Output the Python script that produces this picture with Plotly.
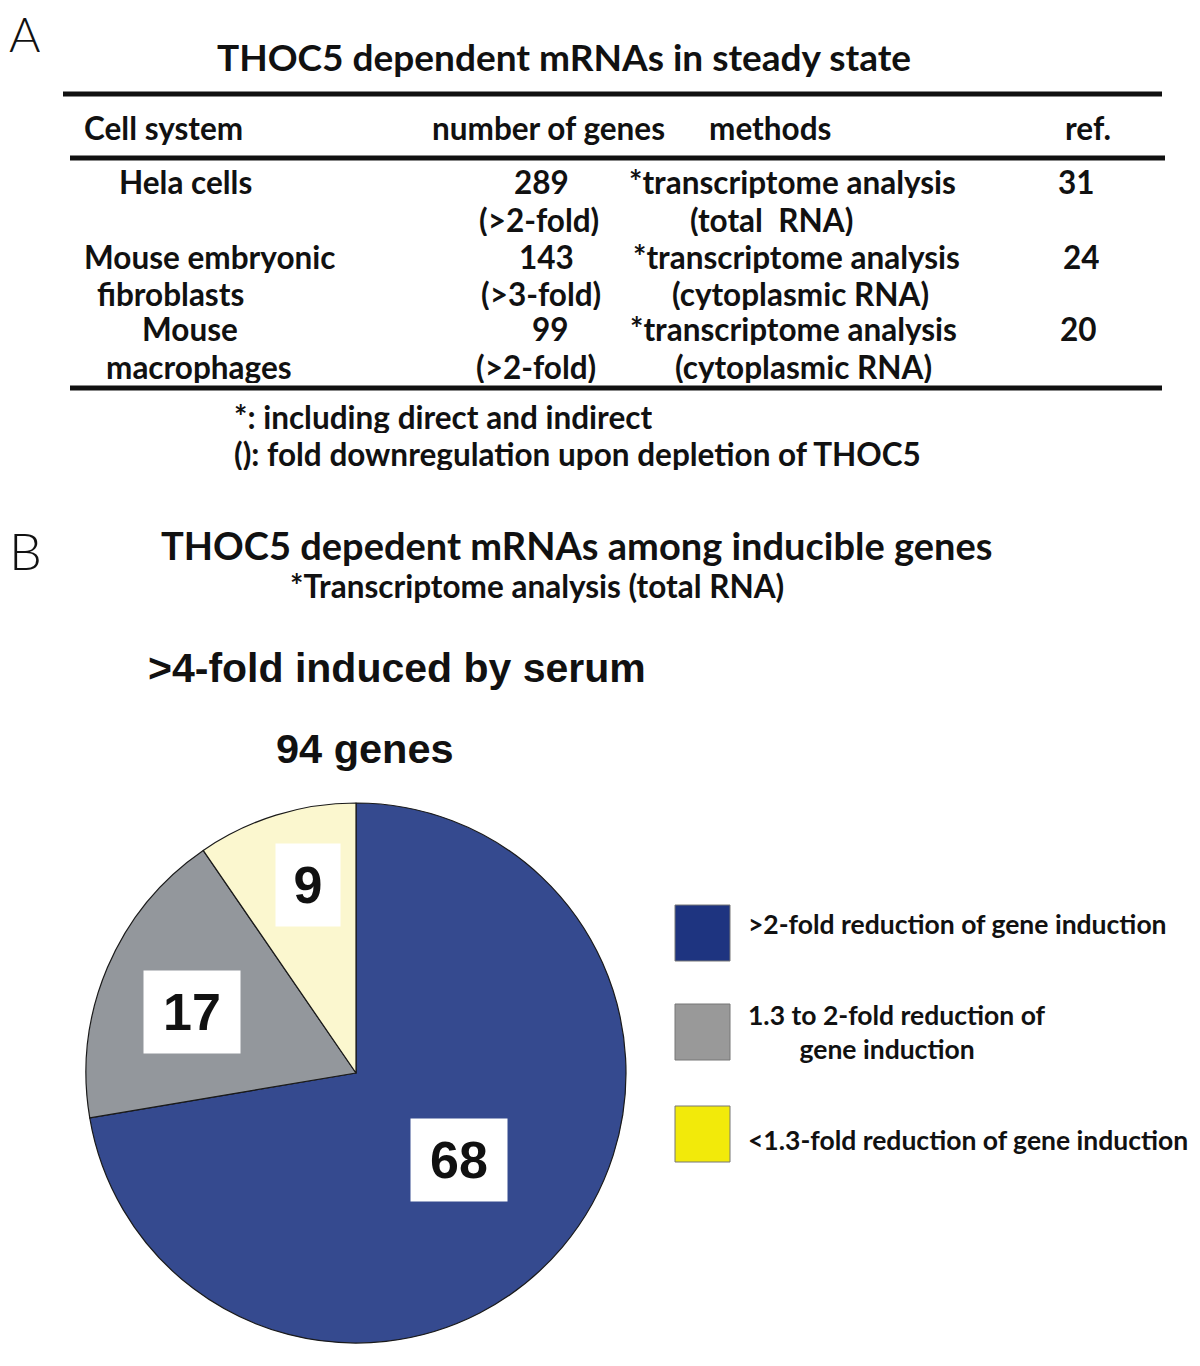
import math
import plotly.graph_objects as go

# ---------------- data ----------------
table_title = "THOC5 dependent mRNAs in steady state"
header = ["Cell system", "number of genes", "methods", "ref."]
cell_line1 = ["Hela cells", "Mouse embryonic", "Mouse"]
cell_line2 = ["", "fibroblasts", "macrophages"]
gene_counts = [289, 143, 99]
fold_thresholds = ["(>2-fold)", "(>3-fold)", "(>2-fold)"]
methods = ["*transcriptome analysis", "*transcriptome analysis", "*transcriptome analysis"]
rna_types = ["(total  RNA)", "(cytoplasmic RNA)", "(cytoplasmic RNA)"]
refs = [31, 24, 20]
footnotes = ["*: including direct and indirect", "(): fold downregulation upon depletion of THOC5"]

b_title = "THOC5 depedent mRNAs among inducible genes"
b_subtitle = "*Transcriptome analysis (total RNA)"
pie_heading = ">4-fold induced by serum"
pie_total_label = "94 genes"
categories = [">2-fold reduction of gene induction",
              "1.3 to 2-fold reduction of<br>        gene induction",
              "<1.3-fold reduction of gene induction"]
gene_numbers = [68, 17, 9]

# ---------------- style ----------------
W, H = 1200, 1366
pie_colors = ["#354a8f", "#93979c", "#fbf7cf"]
legend_colors = ["#1e3480", "#999999", "#f2ea0a"]
TFONT = "Lato"
TS = 31.5  # table text size


def px(x):
    return x / W


def py(y):
    return 1 - y / H


annotations = []
shapes = []


def text(x, y, s, size, family=TFONT, bold=True, anchor="center", weight=None, h=None):
    f = dict(family=family, size=size, color="#111111")
    if weight is not None:
        f["weight"] = weight
    elif bold:
        f["weight"] = "bold"
    a = dict(x=px(x), y=py(y), xref="paper", yref="paper", text=s,
             showarrow=False, xanchor=anchor, yanchor="middle", font=f)
    if h is not None:
        a["height"] = h
    annotations.append(a)


# panel labels
text(24, 33, "A", 48, weight=300, h=44)
text(25, 550, "B", 52, weight=300, h=44)

# ---- Panel A table ----
text(564, 57, table_title, 37)
for y0, x0, x1 in [(94, 63, 1162), (158, 70, 1165), (388, 70, 1162)]:
    shapes.append(dict(type="line", xref="paper", yref="paper", x0=px(x0), x1=px(x1),
                       y0=py(y0), y1=py(y0), line=dict(color="#111111", width=5)))

text(82, 128, header[0], TS, anchor="left")
text(548, 128, header[1], TS)
text(770, 128, header[2], TS)
text(1088, 128, header[3], TS)

row_y1 = [182, 256, 329]
row_y2 = [219, 293, 366]
cell_x1 = [185, 209, 190]
cell_x2 = [185, 170, 199]
num_x = [541, 546, 550]
fold_x = [539, 541, 536]
meth_x = [792, 796, 793]
rna_x = [771, 800, 803]
ref_x = [1076, 1081, 1078]
RH = 33
for i in range(3):
    text(cell_x1[i], row_y1[i], cell_line1[i], TS, h=RH)
    if cell_line2[i]:
        text(cell_x2[i], row_y2[i], cell_line2[i], TS, h=RH)
    text(num_x[i], row_y1[i], str(gene_counts[i]), TS, h=RH)
    text(fold_x[i], row_y2[i], fold_thresholds[i], TS, h=RH)
    text(meth_x[i], row_y1[i], methods[i], TS, h=RH)
    text(rna_x[i], row_y2[i], rna_types[i], TS, h=RH)
    text(ref_x[i], row_y1[i], str(refs[i]), TS, h=RH)

text(232, 417, footnotes[0], TS, anchor="left", h=RH)
text(232, 453, footnotes[1], TS, anchor="left", h=RH)

# ---- Panel B ----
text(576, 545, b_title, 38)
text(537, 586, b_subtitle, 31.5)
text(397, 668, pie_heading, 41, family="Liberation Sans")
text(365, 748, pie_total_label, 41.5, family="Liberation Sans")

# pie geometry (pixels)
cx, cy, R = 356, 1073, 270
fig = go.Figure()
fig.add_trace(go.Pie(
    values=gene_numbers, labels=categories, sort=False, direction="clockwise", rotation=0,
    marker=dict(colors=pie_colors, line=dict(color="#1a1a1a", width=1.2)),
    textinfo="none", hoverinfo="label+value", showlegend=False,
    domain=dict(x=[px(cx - R), px(cx + R)], y=[py(cy + R), py(cy - R)]),
))

# value labels placed near the slice mid-angles
label_r = [0.5, 0.65, 0.72]
label_dang = [0.0, -2.5, 2.8]  # degrees
total = sum(gene_numbers)
cum = 0
for v, rf, da in zip(gene_numbers, label_r, label_dang):
    mid = (cum + v / 2) / total * 2 * math.pi + math.radians(da)
    cum += v
    lx = cx + rf * R * math.sin(mid)
    ly = cy - rf * R * math.cos(mid)
    annotations.append(dict(x=px(lx), y=py(ly), xref="paper", yref="paper", text=f"<b>{v}</b>",
                            showarrow=False, xanchor="center", yanchor="middle",
                            font=dict(family="Liberation Sans", size=52, color="#111111"),
                            bgcolor="white", width=30 + 32 * len(str(v)), height=80))

# legend
leg_y = [933, 1032, 1134]
for c, y in zip(legend_colors, leg_y):
    shapes.append(dict(type="rect", xref="paper", yref="paper", x0=px(675), x1=px(730),
                       y0=py(y + 28), y1=py(y - 28), fillcolor=c,
                       line=dict(color="#777777", width=1)))
LS = 26.5
text(746, 924, categories[0], LS, anchor="left")
annotations.append(dict(x=px(746), y=py(1032), xref="paper", yref="paper", text=categories[1],
                        showarrow=False, xanchor="left", yanchor="middle", align="left",
                        font=dict(family=TFONT, size=LS, color="#111111", weight="bold")))
text(746, 1140, categories[2], LS, anchor="left")

fig.update_layout(width=W, height=H, margin=dict(l=0, r=0, t=0, b=0),
                  paper_bgcolor="white", plot_bgcolor="white",
                  annotations=annotations, shapes=shapes)
fig.write_html("out.html", post_script="document.body.style.margin='0px';",
               config={"displayModeBar": False})
